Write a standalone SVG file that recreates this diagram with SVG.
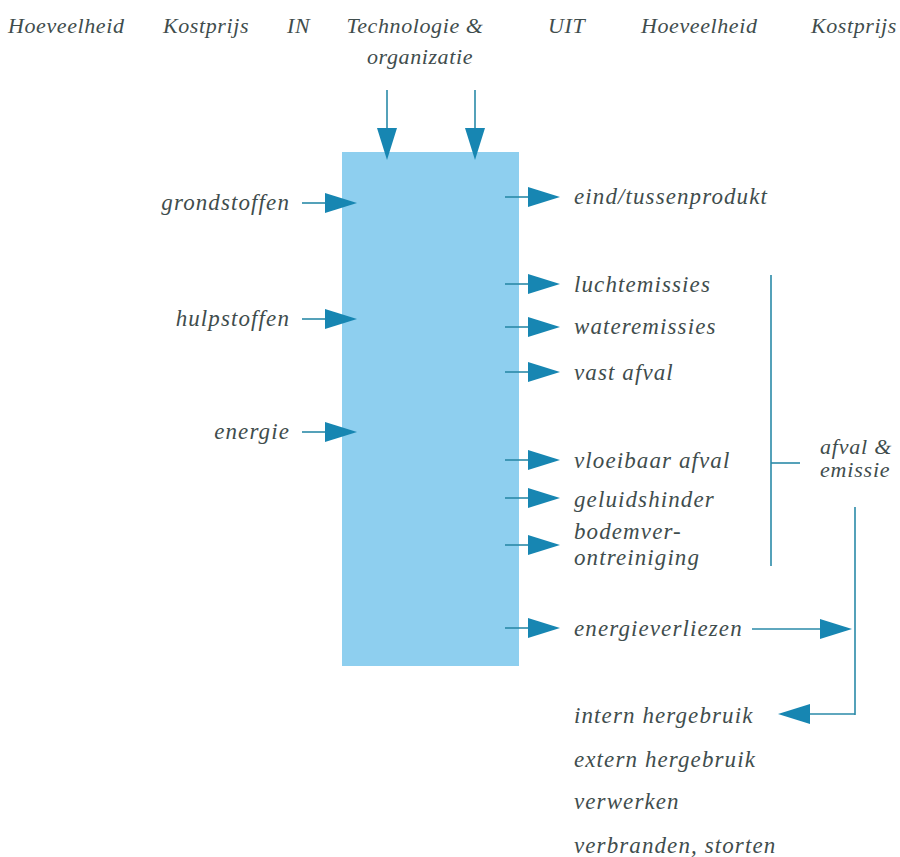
<svg xmlns="http://www.w3.org/2000/svg" width="900" height="857" viewBox="0 0 900 857" font-family="Liberation Serif, Times New Roman, serif" font-style="italic" font-size="23" letter-spacing="1.1" fill="#3f4d4d">
<style>
.ln{stroke:#2a8aa8;stroke-width:1.6;fill:none}
.hd{fill:#1786b2}
</style>
<defs>
<polygon id="ar" class="hd" points="0,-10 32,0 0,10"/>
<polygon id="ad" class="hd" points="-10,0 10,0 0,32"/>
</defs>
<rect width="900" height="857" fill="#ffffff"/>
<g id="headers" font-size="22" letter-spacing="0.6">
<text x="8" y="33">Hoeveelheid</text>
<text x="163" y="33">Kostprijs</text>
<text x="287" y="33">IN</text>
<text x="415" y="33" text-anchor="middle">Technologie &amp;</text>
<text x="420" y="64" text-anchor="middle">organizatie</text>
<text x="548" y="33">UIT</text>
<text x="641" y="33">Hoeveelheid</text>
<text x="897" y="33" text-anchor="end">Kostprijs</text>
</g>
<g id="process">
<rect x="342" y="152" width="177" height="514" fill="#8ecfef"/>
</g>
<g id="inputs">
<text x="290" y="210" text-anchor="end">grondstoffen</text>
<text x="290" y="326" text-anchor="end">hulpstoffen</text>
<text x="290" y="439" text-anchor="end">energie</text>
</g>
<g id="outputs">
<text x="574" y="204">eind/tussenprodukt</text>
<text x="574" y="292">luchtemissies</text>
<text x="574" y="334">wateremissies</text>
<text x="574" y="380">vast afval</text>
<text x="574" y="468">vloeibaar afval</text>
<text x="574" y="507">geluidshinder</text>
<text x="574" y="539">bodemver-</text>
<text x="574" y="565">ontreiniging</text>
<text x="574" y="636">energieverliezen</text>
</g>
<g id="afval" font-size="22" letter-spacing="0.8">
<text x="820" y="454">afval &amp;</text>
<text x="820" y="477">emissie</text>
</g>
<g id="verwerking">
<text x="574" y="723">intern hergebruik</text>
<text x="574" y="767">extern hergebruik</text>
<text x="574" y="809">verwerken</text>
<text x="574" y="853">verbranden, storten</text>
</g>
<g id="connectors">
<line class="ln" x1="387" y1="90" x2="387" y2="130"/><use href="#ad" x="387" y="128"/>
<line class="ln" x1="475" y1="90" x2="475" y2="130"/><use href="#ad" x="475" y="128"/>
<line class="ln" x1="302" y1="203" x2="327" y2="203"/><use href="#ar" x="325" y="203"/>
<line class="ln" x1="302" y1="319" x2="327" y2="319"/><use href="#ar" x="325" y="319"/>
<line class="ln" x1="302" y1="432" x2="327" y2="432"/><use href="#ar" x="325" y="432"/>
<line class="ln" x1="505" y1="197" x2="530" y2="197"/><use href="#ar" x="528" y="197"/>
<line class="ln" x1="505" y1="284" x2="530" y2="284"/><use href="#ar" x="528" y="284"/>
<line class="ln" x1="505" y1="327" x2="530" y2="327"/><use href="#ar" x="528" y="327"/>
<line class="ln" x1="505" y1="372" x2="530" y2="372"/><use href="#ar" x="528" y="372"/>
<line class="ln" x1="505" y1="460" x2="530" y2="460"/><use href="#ar" x="528" y="460"/>
<line class="ln" x1="505" y1="498" x2="530" y2="498"/><use href="#ar" x="528" y="498"/>
<line class="ln" x1="505" y1="545" x2="530" y2="545"/><use href="#ar" x="528" y="545"/>
<line class="ln" x1="505" y1="628" x2="530" y2="628"/><use href="#ar" x="528" y="628"/>
<line class="ln" x1="771" y1="275" x2="771" y2="566"/>
<line class="ln" x1="771" y1="463" x2="800" y2="463"/>
<line class="ln" x1="855" y1="507" x2="855" y2="715"/>
<line class="ln" x1="752" y1="629" x2="822" y2="629"/><use href="#ar" x="820" y="629"/>
<line class="ln" x1="855" y1="714" x2="808" y2="714"/><use href="#ar" transform="translate(810 714) scale(-1 1)"/>
</g>
</svg>
